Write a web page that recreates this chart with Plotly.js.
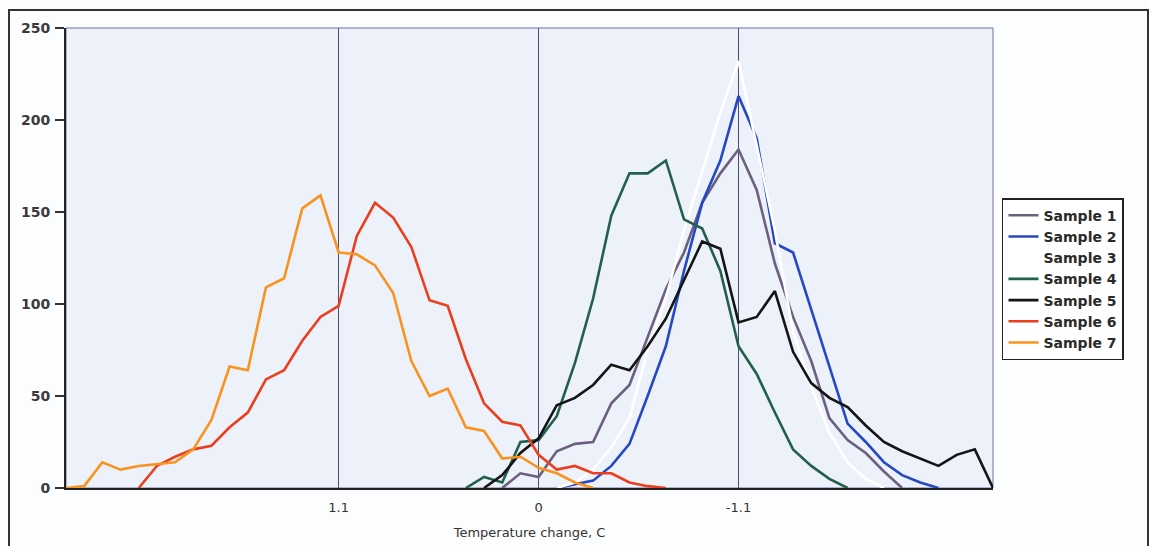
<!DOCTYPE html>
<html>
<head>
<meta charset="utf-8">
<script src="https://cdn.plot.ly/plotly-3.0.1.min.js"></script>
<style>
  html, body { margin: 0; padding: 0; background: #fcfdfe; }
  #wrap { position: relative; width: 1149px; height: 546px; overflow: hidden; }
  #chart { position: absolute; left: 0; top: 0; width: 1149px; height: 546px; }
  #frame { position: absolute; left: 8px; top: 9px; width: 1137px; height: 560px;
           border: 2px solid #333; pointer-events: none; }
</style>
</head>
<body>
<div id="wrap">
  <div id="chart"></div>
  <div id="frame"></div>
</div>
<script>
// Temperature change (x), category positions along the axis
const temperature = [2.6, 2.5, 2.4, 2.3, 2.2, 2.1, 2.0, 1.9, 1.8, 1.7, 1.6, 1.5, 1.4, 1.3, 1.2, 1.1,
  1.0, 0.9, 0.8, 0.7, 0.6, 0.5, 0.4, 0.3, 0.2, 0.1, 0, -0.1, -0.2, -0.3, -0.4, -0.5, -0.6, -0.7,
  -0.8, -0.9, -1.0, -1.1, -1.2, -1.3, -1.4, -1.5, -1.6, -1.7, -1.8, -1.9, -2.0, -2.1, -2.2, -2.3, -2.4, -2.5];

const tickValues = [1.1, 0, -1.1];
const tickLabels = ["1.1", "0", "-1.1"];
const seriesNames = ["Sample 1", "Sample 2", "Sample 3", "Sample 4", "Sample 5", "Sample 6", "Sample 7"];

const N = null;
const sample1 = [N,N,N,N,N,N,N,N,N,N,N,N,N,N,N,N,N,N,N,N,N,N,N,N,
  0, 8, 6, 20, 24, 25, 46, 56, 82, 108, 128, 155, 171, 184, 162, 122, 93, 69, 38, 26, 19, 9, 0,
  N,N,N,N,N];
const sample2 = [N,N,N,N,N,N,N,N,N,N,N,N,N,N,N,N,N,N,N,N,N,N,N,N,N,N,N,
  0, 2, 4, 12, 24, 50, 77, 118, 155, 178, 213, 190, 133, 128, 97, 66, 35, 25, 14, 7, 3, 0,
  N,N,N];
const sample3 = [N,N,N,N,N,N,N,N,N,N,N,N,N,N,N,N,N,N,N,N,N,N,N,N,N,N,N,
  0, 3, 10, 22, 38, 75, 103, 140, 172, 204, 232, 186, 140, 85, 55, 30, 14, 5, 0,
  N,N,N,N,N,N];
const sample4 = [N,N,N,N,N,N,N,N,N,N,N,N,N,N,N,N,N,N,N,N,N,N,
  0, 6, 3, 25, 26, 39, 68, 103, 148, 171, 171, 178, 146, 141, 118, 77, 62, 41, 21, 12, 5, 0,
  N,N,N,N,N,N,N,N];
const sample5 = [N,N,N,N,N,N,N,N,N,N,N,N,N,N,N,N,N,N,N,N,N,N,N,
  0, 7, 19, 27, 45, 49, 56, 67, 64, 77, 92, 113, 134, 130, 90, 93, 107, 74, 57, 49, 44, 34, 25, 20, 16, 12, 18, 21, 0];
const sample6 = [N,N,N,N,
  0, 12, 17, 21, 23, 33, 41, 59, 64, 80, 93, 99, 137, 155, 147, 131, 102, 99, 70, 46, 36, 34, 18, 10, 12, 8, 8, 3, 1, 0,
  N,N,N,N,N,N,N,N,N,N,N,N,N,N,N,N,N,N];
const sample7 = [0, 1, 14, 10, 12, 13, 14, 21, 37, 66, 64, 109, 114, 152, 159, 128, 127, 121, 106, 69, 50, 54, 33, 31, 16, 17, 11, 8, 3, 0,
  N,N,N,N,N,N,N,N,N,N,N,N,N,N,N,N,N,N,N,N,N,N];

const seriesValues = [sample1, sample2, sample3, sample4, sample5, sample6, sample7];
const seriesColors = ["#6c607e", "#2548c4", "#ffffff", "#22604b", "#141414", "#ea3f1c", "#f8931f"];

const traces = seriesNames.map((name, k) => ({
  type: "scatter",
  mode: "lines",
  name: name,
  x: temperature,
  y: seriesValues[k],
  connectgaps: false,
  line: { color: seriesColors[k], width: 2.6 },
  hoverinfo: "x+y+name"
}));

const layout = {
  width: 1149,
  height: 546,
  margin: { l: 66, r: 156, t: 28, b: 58, pad: 0 },
  paper_bgcolor: "#fcfdfe",
  plot_bgcolor: "#edf1fa",
  font: { family: "DejaVu Sans, sans-serif", size: 12, color: "#333" },
  showlegend: true,
  legend: {
    x: 1.0097, xanchor: "left",
    y: 0.63, yanchor: "top",
    bgcolor: "#ffffff",
    bordercolor: "#222",
    borderwidth: 1.5,
    font: { family: "DejaVu Sans, sans-serif", size: 14, color: "#2a2a2a", weight: "bold" },
    tracegroupgap: 0,
    itemclick: false
  },
  xaxis: {
    range: [2.6, -2.5],
    tickmode: "array",
    tickvals: tickValues,
    ticktext: tickLabels,
    ticks: "",
    ticklabelstandoff: 6,
    showgrid: true,
    gridcolor: "#4c4c72",
    gridwidth: 1.2,
    zeroline: false,
    showline: true,
    linecolor: "#222",
    linewidth: 2,
    tickfont: { family: "DejaVu Sans, sans-serif", size: 13, color: "#333" },
    title: { text: "Temperature change, C", font: { family: "DejaVu Sans, sans-serif", size: 13, color: "#333" }, standoff: 14 }
  },
  yaxis: {
    range: [0, 250],
    tickvals: [0, 50, 100, 150, 200, 250],
    ticks: "outside",
    ticklen: 9,
    tickwidth: 1.5,
    tickcolor: "#333",
    ticklabelstandoff: 2,
    showgrid: false,
    zeroline: false,
    showline: true,
    linecolor: "#222",
    linewidth: 2,
    tickfont: { family: "DejaVu Sans, sans-serif", size: 14, color: "#3a3a3a", weight: "bold" }
  },
  shapes: [{
    type: "rect", xref: "paper", yref: "paper", x0: 0, x1: 1, y0: 0, y1: 1,
    line: { color: "#6e6ea0", width: 1 }, layer: "below"
  }]
};

Plotly.newPlot("chart", traces, layout, { displayModeBar: false, staticPlot: true });
</script>
</body>
</html>
